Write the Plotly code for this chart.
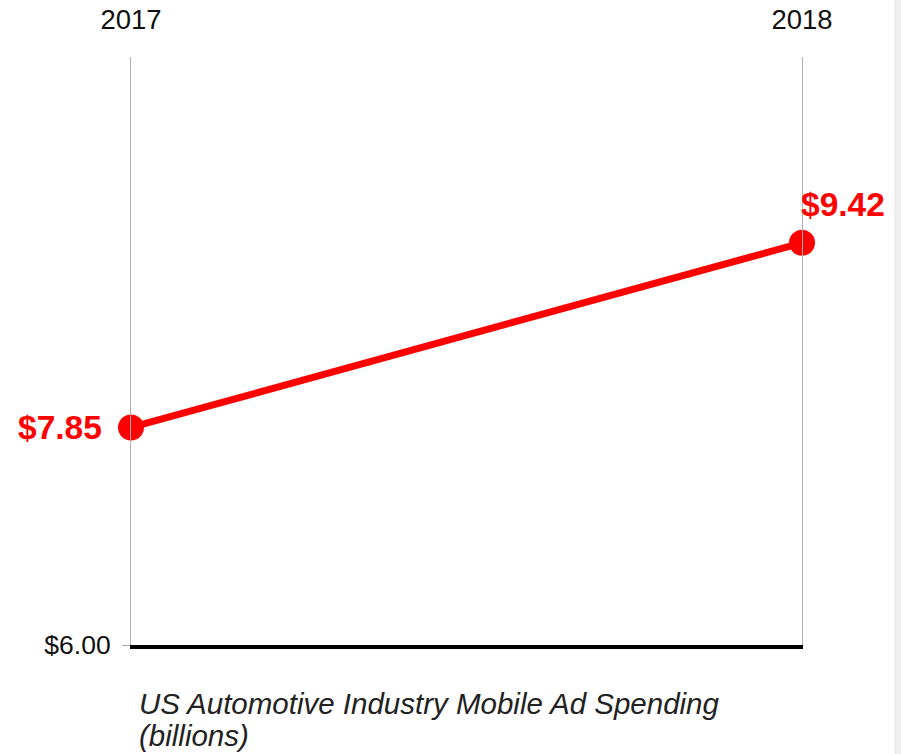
import plotly.graph_objects as go

# Spending data (billions of USD)
years = [2017, 2018]
spending = [7.85, 9.42]
y_floor = 6.00
y_ceiling = 11.0
caption_line1 = "US Automotive Industry Mobile Ad Spending"
caption_line2 = "(billions)"

RED = "#ff0000"
FONT = "Arial, Liberation Sans, sans-serif"

W, H = 901, 754
L, R, T, B = 131, 99, 57, 109
plot_w = W - L - R
plot_h = H - T - B


def px_x(p):
    return (p - L) / plot_w


def px_y(p):
    return (H - B - p) / plot_h


fig = go.Figure()

fig.add_trace(go.Scatter(
    x=years,
    y=spending,
    mode="lines+markers",
    line=dict(color=RED, width=7),
    marker=dict(color=RED, size=26),
    cliponaxis=False,
    hoverinfo="skip",
    xaxis="x2",
))
# invisible companion so the bottom axis has a trace of its own
fig.add_trace(go.Scatter(
    x=years, y=spending, mode="markers",
    marker=dict(opacity=0), hoverinfo="skip", xaxis="x",
))

# value labels
fig.add_annotation(
    x=years[0], y=spending[0], xref="x2", yref="y",
    text=f"<b>${spending[0]:.2f}</b>", showarrow=False,
    xanchor="right", yanchor="middle", xshift=-27,
    font=dict(family=FONT, size=33.5, color=RED),
)
fig.add_annotation(
    x=years[1], y=spending[1], xref="x2", yref="y",
    text=f"<b>${spending[1]:.2f}</b>", showarrow=False,
    xanchor="left", yanchor="bottom", xshift=-3, yshift=18,
    font=dict(family=FONT, size=33.5, color=RED),
)

# caption under the chart
fig.add_annotation(
    x=px_x(137), y=px_y(703), xref="paper", yref="paper",
    text=f"<i>{caption_line1}</i>", showarrow=False,
    xanchor="left", yanchor="middle",
    font=dict(family=FONT, size=29.5, color="#222222"),
)
fig.add_annotation(
    x=px_x(137), y=px_y(736), xref="paper", yref="paper",
    text=f"<i>{caption_line2}</i>", showarrow=False,
    xanchor="left", yanchor="middle",
    font=dict(family=FONT, size=29.5, color="#222222"),
)

# page edge strip on the right
fig.add_shape(
    type="rect", xref="paper", yref="paper",
    x0=px_x(895), x1=px_x(902), y0=px_y(H + 2), y1=px_y(-2),
    fillcolor="#f0f0f0", line=dict(color="#e2e2e2", width=1), layer="below",
)

fig.update_layout(
    width=W, height=H,
    margin=dict(l=L, r=R, t=T, b=B, pad=0, autoexpand=False),
    paper_bgcolor="white",
    plot_bgcolor="white",
    showlegend=False,
    font=dict(family=FONT, size=26.5, color="#111111"),
    xaxis=dict(
        range=[years[0], years[-1]],
        side="bottom",
        automargin=False,
        showline=True, linecolor="black", linewidth=4,
        showgrid=False, zeroline=False,
        showticklabels=False, ticks="",
    ),
    xaxis2=dict(
        range=[years[0], years[-1]],
        matches="x",
        overlaying="x",
        side="top",
        anchor="y",
        automargin=False,
        tickmode="array",
        tickvals=years,
        ticktext=[str(y) for y in years],
        showline=False, showgrid=False, zeroline=False,
        ticks="", ticklabelstandoff=22,
        tickfont=dict(family=FONT, size=27.5, color="#111111"),
    ),
    yaxis=dict(
        range=[y_floor, y_ceiling],
        automargin=False,
        tickmode="array",
        tickvals=[y_floor],
        ticktext=[f"${y_floor:.2f}"],
        ticks="outside", ticklen=8, tickcolor="#aaaaaa", tickwidth=1,
        ticklabelstandoff=6,
        showline=True, mirror=True, linecolor="#b0b0b0", linewidth=1,
        showgrid=False, zeroline=False,
        tickfont=dict(family=FONT, size=26.5, color="#111111"),
    ),
)

fig.write_html("out.html")
